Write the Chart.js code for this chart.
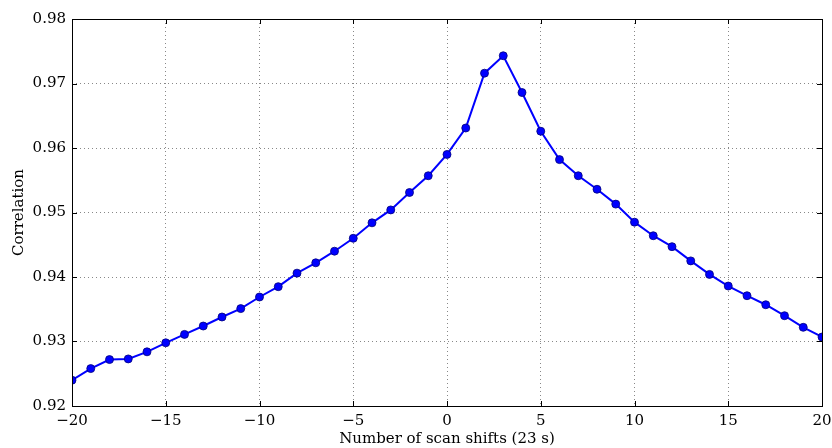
<!DOCTYPE html>
<html>
<head>
<meta charset="utf-8">
<script src="https://cdn.jsdelivr.net/npm/chart.js@4"></script>
<style>
  html, body { margin: 0; padding: 0; background: #fff; }
  #wrap { width: 832px; height: 448px; position: relative; }
</style>
</head>
<body>
<div id="wrap"><canvas id="c" width="832" height="448"></canvas></div>
<script>
// scan shifts and the correlation
var shifts = [-20, -19, -18, -17, -16, -15, -14, -13, -12, -11, -10, -9, -8, -7, -6, -5, -4, -3, -2, -1,
  0, 1, 2, 3, 4, 5, 6, 7, 8, 9, 10, 11, 12, 13, 14, 15, 16, 17, 18, 19, 20];
var correlation = [0.9240, 0.9258, 0.9272, 0.9273, 0.9284, 0.9298, 0.9311, 0.9324, 0.9338, 0.9351,
  0.9369, 0.9385, 0.9406, 0.9422, 0.9440, 0.9460, 0.9484, 0.9504, 0.9531, 0.9557,
  0.9590, 0.9631, 0.9716, 0.9743, 0.9686, 0.9626, 0.9582, 0.9557, 0.9536, 0.9513,
  0.9485, 0.9464, 0.9447, 0.9425, 0.9404, 0.9386, 0.9371, 0.9357, 0.9340, 0.9322, 0.9307];
var xTicks = [-20, -15, -10, -5, 0, 5, 10, 15, 20];
var yTicks = [0.92, 0.93, 0.94, 0.95, 0.96, 0.97, 0.98];

var FONT = "'DejaVu Serif', serif";

function minus(s) { return String(s).replace('-', '\u2212'); }

// matplotlib-style frame with inward ticks on all four sides
var frameTicks = {
  id: 'frameTicks',
  afterDraw: function(chart) {
    var ctx = chart.ctx, a = chart.chartArea;
    var xs = chart.scales.x, ys = chart.scales.y;
    var len = 5;
    ctx.save();
    ctx.strokeStyle = '#000';
    ctx.lineWidth = 1;
    ctx.beginPath();
    xTicks.forEach(function(v) {
      var px = Math.round(xs.getPixelForValue(v)) + 0.5;
      ctx.moveTo(px, a.bottom); ctx.lineTo(px, a.bottom - len);
      ctx.moveTo(px, a.top); ctx.lineTo(px, a.top + len);
    });
    yTicks.forEach(function(v) {
      var py = Math.round(ys.getPixelForValue(v)) + 0.5;
      ctx.moveTo(a.left, py); ctx.lineTo(a.left + len, py);
      ctx.moveTo(a.right, py); ctx.lineTo(a.right - len, py);
    });
    ctx.stroke();
    ctx.strokeRect(Math.round(a.left) + 0.5, Math.round(a.top) + 0.5,
      Math.round(a.right - a.left), Math.round(a.bottom - a.top));
    ctx.restore();
  }
};

new Chart(document.getElementById('c'), {
  type: 'line',
  data: {
    datasets: [{
      data: shifts.map(function(s, i) { return { x: s, y: correlation[i] }; }),
      borderColor: '#0000ff',
      borderWidth: 2,
      backgroundColor: '#0000ff',
      pointBackgroundColor: '#0000ff',
      pointBorderColor: '#00007a',
      pointBorderWidth: 0.8,
      pointRadius: 4,
      tension: 0,
      fill: false
    }]
  },
  options: {
    responsive: false,
    animation: false,
    layout: { padding: { top: 19, right: 10, left: 0, bottom: 0 } },
    plugins: { legend: { display: false }, tooltip: { enabled: false } },
    scales: {
      x: {
        type: 'linear',
        min: -20, max: 20,
        afterFit: function(s) { s.height = 42; s.paddingLeft = 0; s.paddingRight = 0; },
        afterBuildTicks: function(s) { s.ticks = xTicks.map(function(v) { return { value: v }; }); },
        border: { display: false, dash: [1, 3] },
        grid: { color: '#888', drawTicks: false, lineWidth: 1 },
        ticks: {
          autoSkip: false, maxRotation: 0, padding: 6, color: '#000',
          font: { family: FONT, size: 15 },
          callback: function(v) { return minus(v); }
        },
        title: {
          display: true, text: 'Number of scan shifts (23 s)', color: '#000',
          font: { family: FONT, size: 15 }, padding: { top: 0, bottom: 0 }
        }
      },
      y: {
        min: 0.92, max: 0.98,
        afterFit: function(s) { s.width = 72; s.paddingTop = 0; s.paddingBottom = 0; },
        afterBuildTicks: function(s) { s.ticks = yTicks.map(function(v) { return { value: v }; }); },
        border: { display: false, dash: [1, 3] },
        grid: { color: '#888', drawTicks: false, lineWidth: 1 },
        ticks: {
          autoSkip: false, padding: 6, color: '#000',
          font: { family: FONT, size: 15 },
          callback: function(v) { return v.toFixed(2); }
        },
        title: {
          display: true, text: 'Correlation', color: '#000',
          font: { family: FONT, size: 15 }, padding: { top: 10, bottom: 0 }
        }
      }
    }
  },
  plugins: [frameTicks]
});
</script>
</body>
</html>
